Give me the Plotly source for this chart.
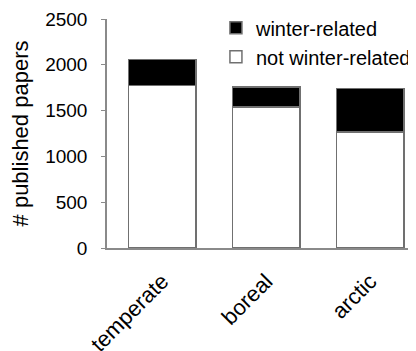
import plotly.graph_objects as go

categories = ["temperate", "boreal", "arctic"]
not_winter = [1775, 1540, 1265]
winter = [285, 220, 475]
y_ticks = [0, 500, 1000, 1500, 2000, 2500]

fig = go.Figure()
fig.add_trace(go.Bar(x=categories, y=not_winter, name="not winter-related",
                     marker=dict(color="white", line=dict(color="#707070", width=1.5)), width=0.65))
fig.add_trace(go.Bar(x=categories, y=winter, name="winter-related",
                     marker=dict(color="black", line=dict(color="#707070", width=1.5)), width=0.65))

fig.update_layout(
    barmode="stack",
    width=408, height=343,
    margin=dict(l=99, r=0, t=11, b=103),
    paper_bgcolor="white", plot_bgcolor="white",
    font=dict(family="Liberation Sans, Arial, sans-serif", size=16, color="black"),
    legend=dict(x=0.356, y=1.047, xanchor="left", yanchor="top",
                traceorder="reversed",
                font=dict(size=20), bgcolor="rgba(0,0,0,0)", itemwidth=30,
                tracegroupgap=0),
    showlegend=True,
)
fig.update_xaxes(range=[-0.53, 2.41], showline=True, linecolor="#8a8a8a", linewidth=1.5,
                 tickangle=-45, ticks="", showgrid=False, tickfont=dict(size=22),
                 ticklabelstandoff=10, automargin=False)
fig.update_yaxes(range=[0, 2500], tickvals=y_ticks, showline=True, linecolor="#8a8a8a",
                 linewidth=1.5, ticks="outside", ticklen=4, tickcolor="#8a8a8a",
                 showgrid=False, zeroline=False, tickfont=dict(size=19),
                 ticklabelstandoff=10, automargin=False,
                 title=dict(text="# published papers", font=dict(size=22), standoff=12))

fig.write_html("out.html")
